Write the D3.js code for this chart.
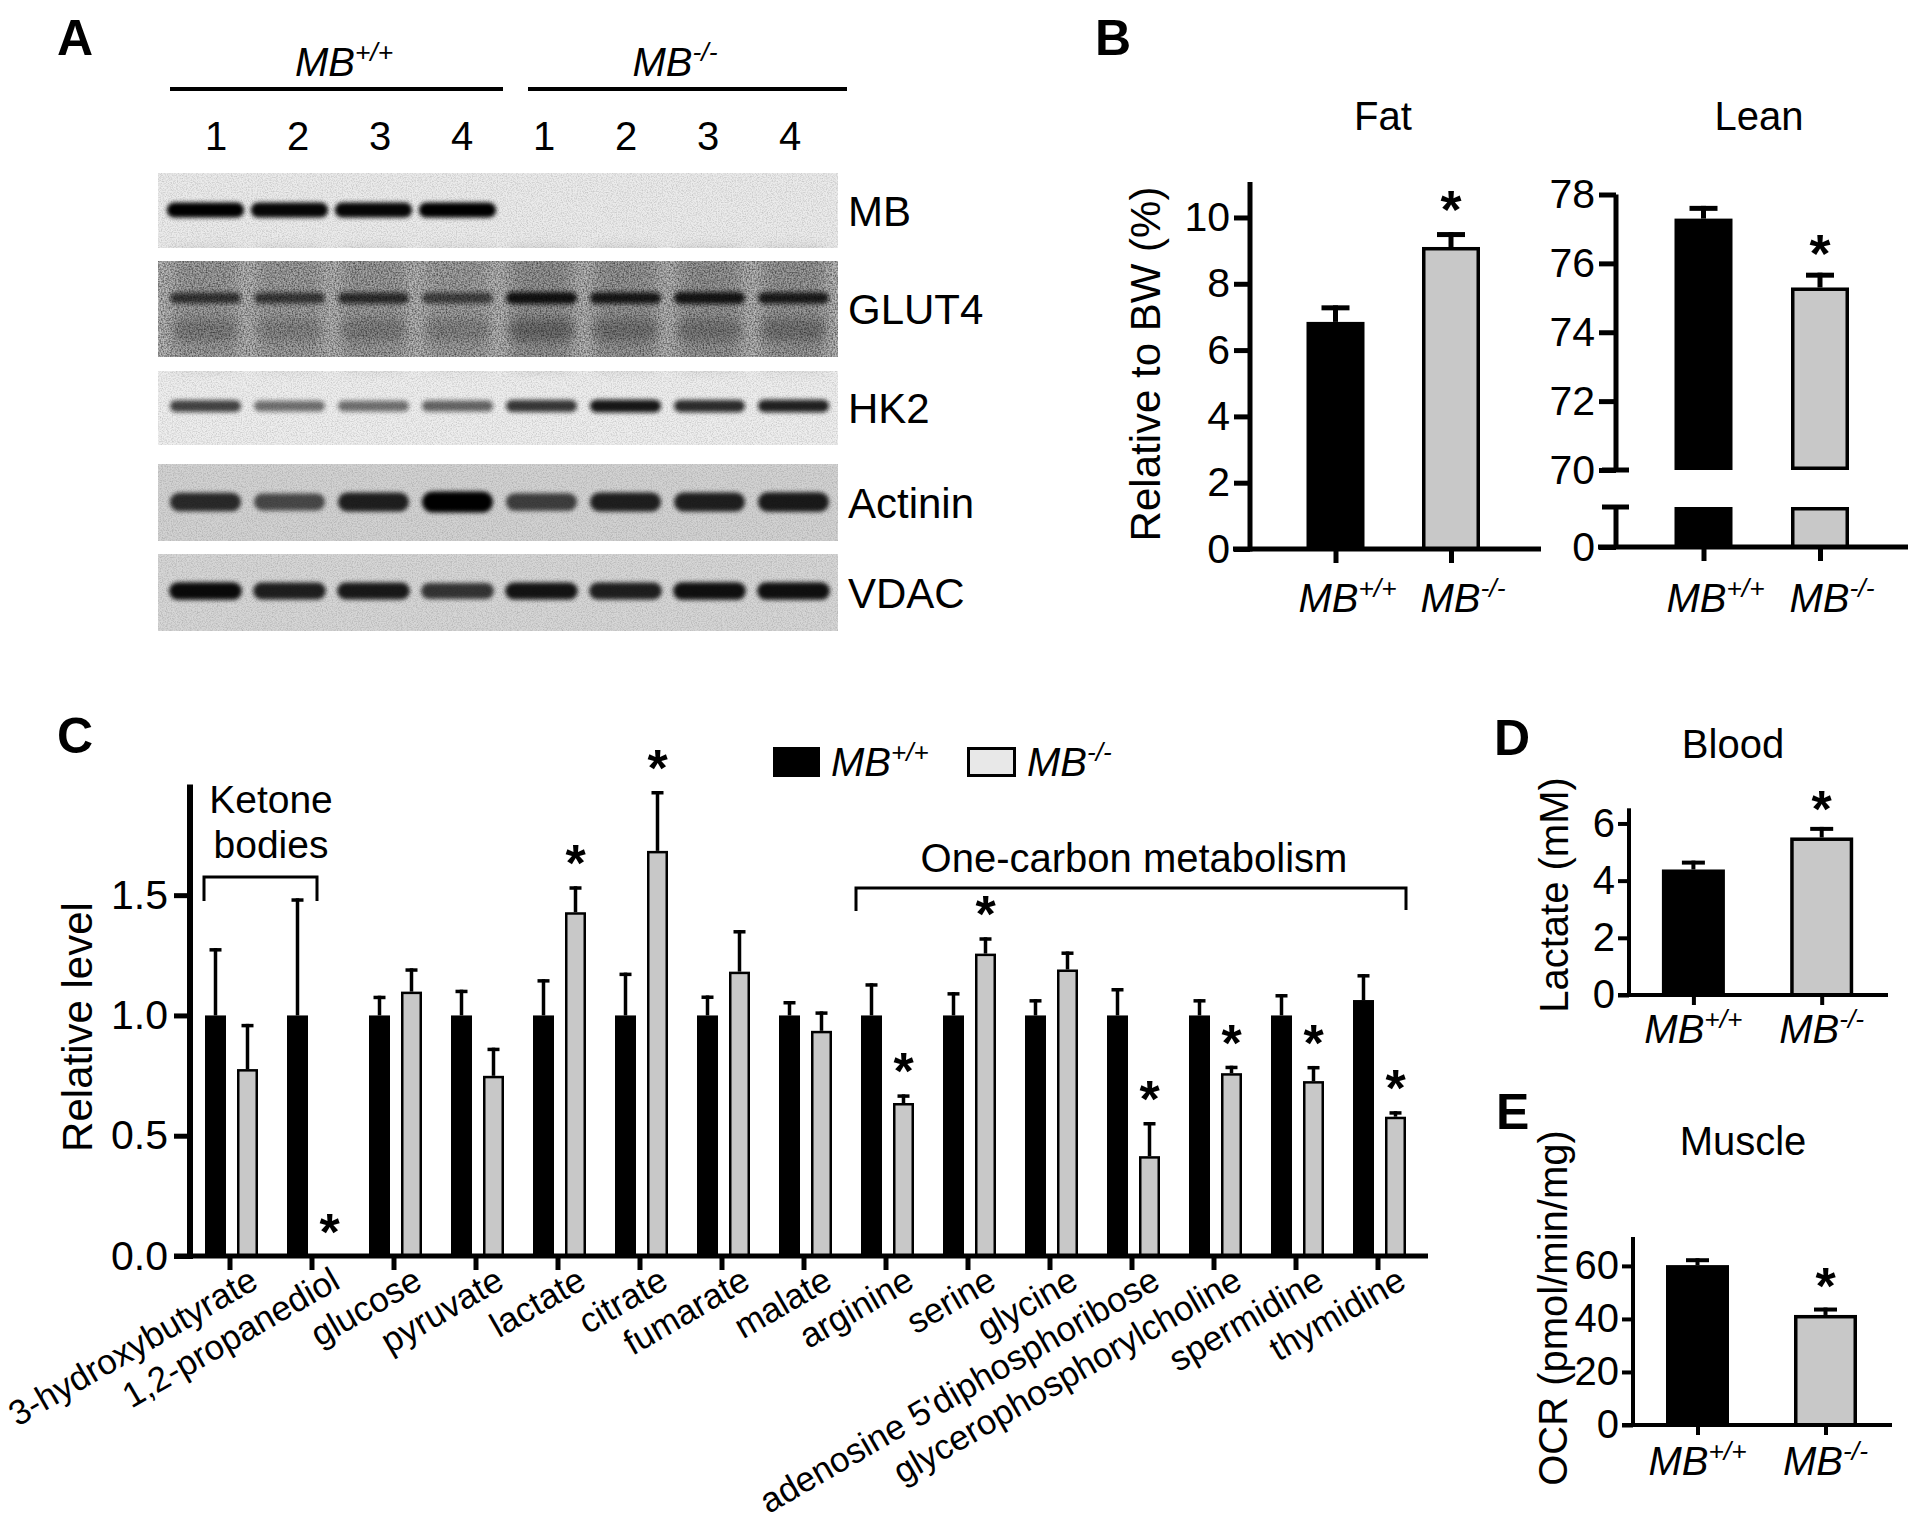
<!DOCTYPE html>
<html><head><meta charset="utf-8">
<script src="https://cdn.jsdelivr.net/npm/d3@7/dist/d3.min.js"></script>
<style>
html,body{margin:0;padding:0;background:#fff;}
svg{display:block;font-family:"Liberation Sans",Arial,Helvetica,sans-serif;}
</style></head><body>
<svg id="fig" width="1920" height="1530" viewBox="0 0 1920 1530"></svg>
<script>
// ================= DATA =================
const genotypes = ["+/+", "-/-"];
const laneNumbers = ["1","2","3","4","1","2","3","4"];
const blotProteins = ["MB","GLUT4","HK2","Actinin","VDAC"];
// relative band darkness per lane (lanes 1-4 MB+/+, 5-8 MB-/-)
const bandMB       = [1.00, 0.97, 0.97, 1.00, 0, 0, 0, 0];
const bandGLUT4    = [0.70, 0.68, 0.75, 0.62, 0.95, 0.90, 0.92, 0.88];
const bandGLUT4low = [0.26, 0.20, 0.24, 0.22, 0.40, 0.32, 0.28, 0.32];
const bandHK2      = [0.75, 0.55, 0.55, 0.60, 0.80, 0.95, 0.85, 0.90];
const bandActinin  = [0.80, 0.65, 0.85, 1.00, 0.70, 0.85, 0.85, 0.88];
const bandVDAC     = [0.95, 0.85, 0.88, 0.75, 0.90, 0.85, 0.92, 0.92];

const fatMean = [6.85, 9.11], fatSEM = [0.50, 0.45], fatSig = [false, true];
const fatTicks = [0, 2, 4, 6, 8, 10];
const leanMean = [77.3, 75.3], leanSEM = [0.37, 0.43], leanSig = [false, true];
const leanTicks = [70, 72, 74, 76, 78];
const lactateMean = [4.39, 5.51], lactateSEM = [0.31, 0.37], lactateSig = [false, true];
const lactateTicks = [0, 2, 4, 6];
const ocrMean = [60.3, 41.5], ocrSEM = [2.6, 2.8], ocrSig = [false, true];
const ocrTicks = [0, 20, 40, 60];

const metabolites = ["3-hydroxybutyrate","1,2-propanediol","glucose","pyruvate","lactate","citrate",
  "fumarate","malate","arginine","serine","glycine","adenosine 5'diphosphoribose",
  "glycerophosphorylcholine","spermidine","thymidine"];
const wtLevel = [1,1,1,1,1,1,1,1,1,1,1,1,1,1,1.064];
const wtSEM   = [0.28,0.487,0.082,0.107,0.151,0.178,0.083,0.06,0.134,0.097,0.068,0.114,0.068,0.089,0.108];
const koLevel = [0.777,0.006,1.099,0.749,1.429,1.684,1.182,0.936,0.636,1.257,1.191,0.415,0.760,0.727,0.579];
const koSEM   = [0.188,0,0.097,0.117,0.108,0.249,0.173,0.081,0.036,0.068,0.075,0.142,0.031,0.063,0.023];
const koSig   = [false,true,false,false,true,true,false,false,true,true,false,true,true,true,true];
const levelTicks = [0, 0.5, 1.0, 1.5];

// ================= SETUP =================
const svg = d3.select("#fig");
const GREY = "#c8c8c8";
const defs = svg.append("defs");
function blurFilter(id, sd) {
  defs.append("filter").attr("id", id).attr("x", "-30%").attr("y", "-80%")
    .attr("width", "160%").attr("height", "260%")
    .append("feGaussianBlur").attr("stdDeviation", sd);
}
blurFilter("b2", 2); blurFilter("b3", 3); blurFilter("b5", 5); blurFilter("b7", 7);
function grainFilter(id, freq, a, b, seed) {
  const nf = defs.append("filter").attr("id", id).attr("x", 0).attr("y", 0).attr("width", "100%").attr("height", "100%");
  nf.append("feTurbulence").attr("type", "fractalNoise").attr("baseFrequency", freq).attr("numOctaves", 2).attr("seed", seed).attr("result", "t");
  nf.append("feColorMatrix").attr("in", "t").attr("type", "matrix")
    .attr("values", `0 0 0 0 0  0 0 0 0 0  0 0 0 0 0  0 0 0 ${a} ${b}`).attr("result", "m");
  nf.append("feComposite").attr("in", "m").attr("in2", "SourceGraphic").attr("operator", "in");
}
grainFilter("grain", 0.8, 0.7, -0.28, 5);
grainFilter("grainStrong", 0.65, 1.1, -0.38, 9);

function styleAxis(sel, sw, fs) {
  sel.attr("font-family", null).attr("font-size", null);
  sel.selectAll("path.domain").remove();
  sel.selectAll(".tick line").attr("stroke", "#000").attr("stroke-width", sw);
  sel.selectAll(".tick text").attr("fill", "#000").attr("font-size", fs);
}
function genoLabel(g, x, y, gt, size) {
  const t = g.append("text").attr("x", x).attr("y", y).attr("text-anchor", "middle")
    .attr("font-style", "italic").attr("font-size", size);
  t.append("tspan").text("MB");
  t.append("tspan").attr("dy", -size * 0.38).attr("font-size", size * 0.66).text(gt);
  return t;
}
function panelLetter(x, y, s) {
  svg.append("text").attr("x", x).attr("y", y).attr("font-weight", "bold").attr("font-size", 50).text(s);
}

// ================= PANEL A (western blots) =================
panelLetter(57, 55, "A");
const gA = svg.append("g");
const laneX = d3.scaleBand().domain(d3.range(8)).range([166, 833]).paddingInner(0.06);
const laneNum = d3.scalePoint().domain(d3.range(8)).range([216, 790]);
genoLabel(gA, 344, 76, "+/+", 40);
genoLabel(gA, 675, 76, "-/-", 40);
gA.append("line").attr("x1", 170).attr("x2", 503).attr("y1", 89).attr("y2", 89).attr("stroke", "#000").attr("stroke-width", 4);
gA.append("line").attr("x1", 528).attr("x2", 847).attr("y1", 89).attr("y2", 89).attr("stroke", "#000").attr("stroke-width", 4);
gA.selectAll("text.lane").data(laneNumbers).join("text").attr("class", "lane")
  .attr("x", (d, i) => laneNum(i)).attr("y", 150).attr("text-anchor", "middle").attr("font-size", 40).text(d => d);

const stripLayout = [
  {y: 173, h: 75, bg: "#ebebeb"},
  {y: 261, h: 96, bg: "#bdbdbd"},
  {y: 371, h: 74, bg: "#eeeeee"},
  {y: 464, h: 77, bg: "#d2d2d2"},
  {y: 554, h: 77, bg: "#d6d6d6"}
];
const blotL = 158, blotR = 838;
stripLayout.forEach((s, k) => {
  gA.append("rect").attr("x", blotL).attr("y", s.y).attr("width", blotR - blotL).attr("height", s.h).attr("fill", s.bg);
  gA.append("text").attr("x", 848).attr("y", s.y + s.h / 2).attr("dy", "0.36em").attr("font-size", 42).text(blotProteins[k]);
});
const blotClip = defs.append("clipPath").attr("id", "blotclip");
stripLayout.forEach(s => blotClip.append("rect").attr("x", blotL).attr("y", s.y).attr("width", blotR - blotL).attr("height", s.h));
const gBands = gA.append("g").attr("clip-path", "url(#blotclip)");

function drawBands(vals, cy, thick, wFrac, filt, color) {
  const bw = laneX.bandwidth();
  gBands.append("g").selectAll("rect").data(vals).join("rect")
    .attr("x", (v, i) => laneX(i) + bw * (1 - wFrac) / 2)
    .attr("width", bw * wFrac)
    .attr("y", v => cy - thick(v) / 2)
    .attr("height", v => thick(v))
    .attr("rx", v => thick(v) / 2)
    .attr("fill", color || "#050505")
    .attr("opacity", v => v)
    .attr("filter", `url(#${filt})`);
}
// GLUT4 lane smears
const s2 = stripLayout[1];
gBands.append("g").selectAll("rect").data(bandGLUT4).join("rect")
  .attr("x", (v, i) => laneX(i) + laneX.bandwidth() * 0.1).attr("width", laneX.bandwidth() * 0.8)
  .attr("y", s2.y - 10).attr("height", s2.h + 20)
  .attr("fill", "#5a5a5a").attr("opacity", v => 0.36 * v).attr("filter", "url(#b7)");
drawBands(bandMB, 210, v => 15, 0.98, "b2");
drawBands(bandGLUT4low, 330, v => 22, 0.85, "b5", "#333");
drawBands(bandGLUT4, 298, v => 9 + 3 * v, 0.9, "b2", "#111");
drawBands(bandHK2, 406, v => 8 + 5 * v, 0.9, "b2", "#111");
drawBands(bandActinin, 502, v => 9 + 12 * v, 0.9, "b2");
drawBands(bandVDAC, 591, v => 10 + 8 * v, 0.92, "b2");
stripLayout.forEach((s, k) => {
  gA.append("rect").attr("x", blotL).attr("y", s.y).attr("width", blotR - blotL).attr("height", s.h)
    .attr("fill", "#000").attr("filter", k === 1 ? "url(#grainStrong)" : "url(#grain)").attr("opacity", k === 1 ? 1 : 0.5);
});

// ================= generic two-bar panel =================
function barPanel(o) {
  const g = svg.append("g");
  const y0 = o.y(0);
  const cx = i => o.x(genotypes[i]);
  g.selectAll("rect.bar").data(o.means).join("rect").attr("class", "bar")
    .attr("x", (d, i) => cx(i) - o.barW / 2 + (i ? o.bs / 2 : 0))
    .attr("width", (d, i) => o.barW - (i ? o.bs : 0))
    .attr("y", (d, i) => o.y(d) + (i ? o.bs / 2 : 0))
    .attr("height", (d, i) => y0 - o.y(d) - (i ? o.bs / 2 : 0))
    .attr("fill", (d, i) => i ? GREY : "#000")
    .attr("stroke", (d, i) => i ? "#000" : "none")
    .attr("stroke-width", o.bs);
  o.means.forEach((m, i) => {
    const top = o.y(m + o.sem[i]);
    g.append("line").attr("x1", cx(i)).attr("x2", cx(i)).attr("y1", o.y(m)).attr("y2", top)
      .attr("stroke", "#000").attr("stroke-width", o.ew);
    g.append("line").attr("x1", cx(i) - o.capW / 2).attr("x2", cx(i) + o.capW / 2).attr("y1", top + o.ew / 2).attr("y2", top + o.ew / 2)
      .attr("stroke", "#000").attr("stroke-width", o.ew);
    if (o.sig[i]) g.append("text").attr("x", cx(i)).attr("y", top + o.starDy).attr("text-anchor", "middle")
      .attr("font-size", o.starFs).attr("font-weight", "bold").text("*");
  });
  g.append("line").attr("x1", o.ax).attr("x2", o.ax).attr("y1", o.y.range()[1]).attr("y2", y0 + o.aw / 2)
    .attr("stroke", "#000").attr("stroke-width", o.aw);
  const ya = g.append("g").attr("transform", `translate(${o.ax},0)`)
    .call(d3.axisLeft(o.y).tickValues(o.ticks).tickSize(o.tl).tickPadding(o.tp).tickFormat(d3.format("d")));
  styleAxis(ya, o.tw, o.fs);
  g.append("line").attr("x1", o.xFrom).attr("x2", o.xTo).attr("y1", y0).attr("y2", y0)
    .attr("stroke", "#000").attr("stroke-width", o.aw);
  const xa = g.append("g").attr("transform", `translate(0,${y0})`)
    .call(d3.axisBottom(o.x).tickSize(o.txl).tickFormat(""));
  styleAxis(xa, o.tw, o.fs);
  genotypes.forEach((gt, i) => genoLabel(g, cx(i) + o.labDx, o.labY, gt, 40));
  if (o.title) g.append("text").attr("x", o.title[0]).attr("y", o.title[1]).attr("text-anchor", "middle").attr("font-size", 40).text(o.title[2]);
  if (o.ylab) g.append("text").attr("transform", `translate(${o.ylab[0]},${o.ylab[1]}) rotate(-90)`)
    .attr("text-anchor", "middle").attr("font-size", o.ylab[3]).text(o.ylab[2]);
  return g;
}

// ================= PANEL B =================
panelLetter(1095, 55, "B");
barPanel({
  y: d3.scaleLinear().domain([0, 11.07]).range([549, 182]),
  x: d3.scalePoint().domain(genotypes).range([1335.5, 1451]),
  means: fatMean, sem: fatSEM, sig: fatSig, ticks: fatTicks,
  barW: 58, bs: 3.5, ew: 5, capW: 28, starDy: -4, starFs: 54,
  ax: 1250, aw: 5, tl: 16, tp: 4, tw: 5, fs: 41, txl: 14,
  xFrom: 1233, xTo: 1541, labDx: 12, labY: 612,
  title: [1383, 130, "Fat"], ylab: [1160, 364, "Relative to BW (%)", 42]
});
// Lean (broken axis)
(function () {
  const g = svg.append("g");
  const yU = d3.scaleLinear().domain([70, 78]).range([470, 194.5]);
  const yL = d3.scaleLinear().domain([0, 1]).range([547, 507]);
  const x = d3.scalePoint().domain(genotypes).range([1703.5, 1820]);
  const ax = 1616, aw = 5, barW = 58, bs = 3.5;
  leanMean.forEach((m, i) => {
    const c = x(genotypes[i]);
    const inset = i ? bs / 2 : 0;
    [[yU(m), yU(70)], [yL(1), yL(0)]].forEach(([t, b]) => {
      g.append("rect").attr("x", c - barW / 2 + inset).attr("width", barW - 2 * inset)
        .attr("y", t + inset).attr("height", b - t - (b === yL(0) ? inset : 2 * inset))
        .attr("fill", i ? GREY : "#000").attr("stroke", i ? "#000" : "none").attr("stroke-width", bs);
    });
    const top = yU(m + leanSEM[i]);
    g.append("line").attr("x1", c).attr("x2", c).attr("y1", yU(m)).attr("y2", top).attr("stroke", "#000").attr("stroke-width", 5);
    g.append("line").attr("x1", c - 14).attr("x2", c + 14).attr("y1", top + 2.5).attr("y2", top + 2.5).attr("stroke", "#000").attr("stroke-width", 5);
    if (leanSig[i]) g.append("text").attr("x", c).attr("y", top - 1).attr("text-anchor", "middle").attr("font-size", 54).attr("font-weight", "bold").text("*");
  });
  g.append("line").attr("x1", ax).attr("x2", ax).attr("y1", yU.range()[1]).attr("y2", yU(70)).attr("stroke", "#000").attr("stroke-width", aw);
  g.append("line").attr("x1", ax).attr("x2", ax).attr("y1", yL(1)).attr("y2", yL(0)).attr("stroke", "#000").attr("stroke-width", aw);
  g.append("line").attr("x1", ax - 14).attr("x2", ax + 13).attr("y1", yU(70)).attr("y2", yU(70)).attr("stroke", "#000").attr("stroke-width", aw);
  g.append("line").attr("x1", ax - 14).attr("x2", ax + 13).attr("y1", yL(1)).attr("y2", yL(1)).attr("stroke", "#000").attr("stroke-width", aw);
  const ya = g.append("g").attr("transform", `translate(${ax},0)`)
    .call(d3.axisLeft(yU).tickValues(leanTicks).tickSize(17).tickPadding(4).tickFormat(d3.format("d")));
  styleAxis(ya, 5, 41);
  const yb = g.append("g").attr("transform", `translate(${ax},0)`)
    .call(d3.axisLeft(yL).tickValues([0]).tickSize(17).tickPadding(4).tickFormat(d3.format("d")));
  styleAxis(yb, 5, 41);
  g.append("line").attr("x1", 1598).attr("x2", 1908).attr("y1", yL(0)).attr("y2", yL(0)).attr("stroke", "#000").attr("stroke-width", aw);
  const xa = g.append("g").attr("transform", `translate(0,${yL(0)})`).call(d3.axisBottom(x).tickSize(14).tickFormat(""));
  styleAxis(xa, 5, 40);
  genotypes.forEach((gt, i) => genoLabel(g, x(gt) + 12, 612, gt, 40));
  g.append("text").attr("x", 1759).attr("y", 130).attr("text-anchor", "middle").attr("font-size", 40).text("Lean");
})();

// ================= PANEL C =================
panelLetter(57, 753, "C");
(function () {
  const g = svg.append("g");
  const y = d3.scaleLinear().domain([0, 1.96]).range([1256, 784.5]);
  const x = d3.scaleBand().domain(metabolites).range([189, 1419]);
  const inner = d3.scaleBand().domain(["wt", "ko"]).range([-25, 28]).paddingInner(0.34375);
  const bw = inner.bandwidth();
  const y0 = y(0);
  const c0 = m => x(m) + x.bandwidth() / 2;
  g.selectAll("rect.wt").data(metabolites).join("rect").attr("class", "wt")
    .attr("x", m => c0(m) + inner("wt")).attr("width", bw)
    .attr("y", (m, i) => y(wtLevel[i])).attr("height", (m, i) => y0 - y(wtLevel[i])).attr("fill", "#000");
  g.selectAll("rect.ko").data(metabolites).join("rect").attr("class", "ko")
    .attr("x", m => c0(m) + inner("ko") + 1.25).attr("width", bw - 2.5)
    .attr("y", (m, i) => y(koLevel[i]) + 1.25).attr("height", (m, i) => Math.max(0, y0 - y(koLevel[i]) - 1.25))
    .attr("fill", GREY).attr("stroke", "#000").attr("stroke-width", 2.5);
  function err(cx, m, e) {
    if (e <= 0) return;
    const top = y(m + e);
    g.append("line").attr("x1", cx).attr("x2", cx).attr("y1", y(m)).attr("y2", top).attr("stroke", "#000").attr("stroke-width", 3.5);
    g.append("line").attr("x1", cx - 6).attr("x2", cx + 6).attr("y1", top + 1.75).attr("y2", top + 1.75).attr("stroke", "#000").attr("stroke-width", 3.5);
  }
  metabolites.forEach((m, i) => {
    err(c0(m) + inner("wt") + bw / 2, wtLevel[i], wtSEM[i]);
    err(c0(m) + inner("ko") + bw / 2, koLevel[i], koSEM[i]);
    if (koSig[i]) g.append("text").attr("x", c0(m) + inner("ko") + bw / 2).attr("y", y(koLevel[i] + koSEM[i]) - 5)
      .attr("text-anchor", "middle").attr("font-size", 52).attr("font-weight", "bold").text("*");
  });
  g.append("line").attr("x1", 190).attr("x2", 190).attr("y1", y.range()[1]).attr("y2", y0 + 3).attr("stroke", "#000").attr("stroke-width", 6);
  const ya = g.append("g").attr("transform", "translate(190,0)")
    .call(d3.axisLeft(y).tickValues(levelTicks).tickSize(16).tickPadding(6).tickFormat(d3.format(".1f")));
  styleAxis(ya, 5, 41);
  g.append("line").attr("x1", 174).attr("x2", 1428).attr("y1", y0).attr("y2", y0).attr("stroke", "#000").attr("stroke-width", 5);
  const xa = g.append("g").attr("transform", `translate(0,${y0})`)
    .call(d3.axisBottom(x).tickSize(14).tickFormat(""));
  styleAxis(xa, 5, 35);
  g.selectAll("text.xl").data(metabolites).join("text").attr("class", "xl")
    .attr("transform", m => `translate(${c0(m) + 30},${y0 + 31}) rotate(-30)`)
    .attr("text-anchor", "end").attr("font-size", 35).text(m => m);
  g.append("text").attr("transform", `translate(92,1027) rotate(-90)`).attr("text-anchor", "middle").attr("font-size", 42).text("Relative level");
  const kL = x(metabolites[0]) + 15, kR = x(metabolites[1]) + 46;
  g.append("path").attr("d", `M${kL},901V877H${kR}V901`).attr("fill", "none").attr("stroke", "#000").attr("stroke-width", 3);
  g.append("text").attr("x", 271).attr("y", 813).attr("text-anchor", "middle").attr("font-size", 39).text("Ketone");
  g.append("text").attr("x", 271).attr("y", 858).attr("text-anchor", "middle").attr("font-size", 39).text("bodies");
  const oL = x("arginine") + 11, oR = x("thymidine") + 69;
  g.append("path").attr("d", `M${oL},911V888H${oR}V910`).attr("fill", "none").attr("stroke", "#000").attr("stroke-width", 3);
  g.append("text").attr("x", (oL + oR) / 2 + 3).attr("y", 872).attr("text-anchor", "middle").attr("font-size", 40).text("One-carbon metabolism");
  g.append("rect").attr("x", 773).attr("y", 747).attr("width", 47).attr("height", 30).attr("fill", "#000");
  g.append("text").attr("x", 831).attr("y", 776).attr("font-style", "italic").attr("font-size", 40)
    .call(t => { t.append("tspan").text("MB"); t.append("tspan").attr("dy", -15).attr("font-size", 26).text("+/+"); });
  g.append("rect").attr("x", 968.5).attr("y", 748.5).attr("width", 46).attr("height", 27).attr("fill", "#e8e8e8").attr("stroke", "#000").attr("stroke-width", 3);
  g.append("text").attr("x", 1027).attr("y", 776).attr("font-style", "italic").attr("font-size", 40)
    .call(t => { t.append("tspan").text("MB"); t.append("tspan").attr("dy", -15).attr("font-size", 26).text("-/-"); });
})();

// ================= PANEL D =================
panelLetter(1494, 755, "D");
barPanel({
  y: d3.scaleLinear().domain([0, 6.53]).range([995, 808.3]),
  x: d3.scalePoint().domain(genotypes).range([1693.4, 1821.7]),
  means: lactateMean, sem: lactateSEM, sig: lactateSig, ticks: lactateTicks,
  barW: 63, bs: 3.5, ew: 4, capW: 23, starDy: 0, starFs: 52,
  ax: 1629, aw: 4, tl: 11, tp: 3, tw: 4, fs: 40, txl: 10,
  xFrom: 1618, xTo: 1888, labDx: 0, labY: 1043,
  title: [1733, 758, "Blood"], ylab: [1568, 895, "Lactate (mM)", 40]
});

// ================= PANEL E =================
panelLetter(1496, 1129, "E");
barPanel({
  y: d3.scaleLinear().domain([0, 70.9]).range([1425, 1237]),
  x: d3.scalePoint().domain(genotypes).range([1697.5, 1825.5]),
  means: ocrMean, sem: ocrSEM, sig: ocrSig, ticks: ocrTicks,
  barW: 63, bs: 3.5, ew: 4, capW: 23, starDy: -4, starFs: 52,
  ax: 1633, aw: 4, tl: 11, tp: 3, tw: 4, fs: 40, txl: 10,
  xFrom: 1622, xTo: 1892, labDx: 0, labY: 1475,
  title: [1743, 1155, "Muscle"], ylab: [1567, 1308, "OCR (pmol/min/mg)", 40]
});
</script>
</body></html>
